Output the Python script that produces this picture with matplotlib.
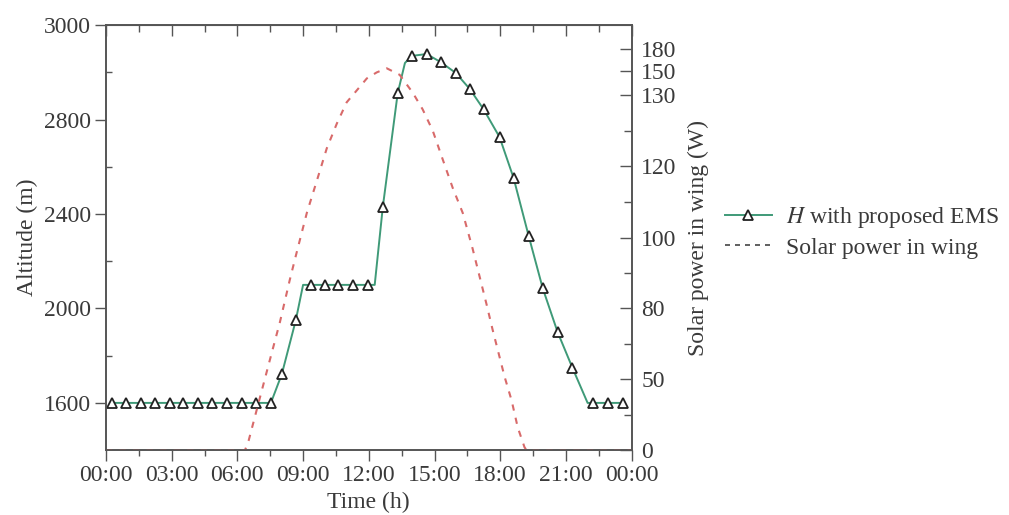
import numpy as np
import matplotlib
matplotlib.use("Agg")
import matplotlib.pyplot as plt
from matplotlib.lines import Line2D

plt.rcParams['font.family'] = ['Liberation Serif', 'DejaVu Serif']
plt.rcParams['mathtext.fontset'] = 'stix'

# ---------------- data ----------------
# Altitude H (m) over the day (hours); corner points of the line carry no marker
H_time = [0.27, 0.91, 1.60, 2.24, 2.92, 3.51, 4.20, 4.84, 5.52, 6.20, 6.84, 7.53,
          8.03, 8.67, 9.00, 9.35, 9.99, 10.58, 11.27, 11.95, 12.27, 12.64, 13.32,
          13.65, 13.96, 14.64, 15.28, 15.97, 16.61, 17.24, 17.97, 18.61, 19.30,
          19.94, 20.62, 21.30, 21.99, 22.22, 22.90, 23.59]
H_alt = [1600, 1600, 1600, 1600, 1600, 1600, 1600, 1600, 1600, 1600, 1600, 1600,
         1722, 1951, 2100, 2100, 2100, 2100, 2100, 2100, 2100, 2430, 2856,
         2920, 2935, 2939, 2922, 2899, 2865, 2822, 2726, 2553, 2307,
         2086, 1900, 1748, 1600, 1600, 1600, 1600]
H_marked = [True] * 14 + [False] + [True] * 5 + [False] + [True] * 2 + [False] + \
           [True] * 12 + [False] + [True] * 3

# Solar power in wing (W)
S_time = [0, 6.35, 6.52, 7.03, 7.48, 7.94, 8.39, 8.67, 9.17, 9.63, 10.08, 10.54,
          10.99, 11.45, 11.91, 12.36, 12.82, 13.41, 14.01, 14.46, 14.92, 15.37,
          15.83, 16.29, 16.74, 17.06, 17.38, 17.65, 18.20, 18.52, 18.80, 19.11,
          19.2, 24]
S_power = [0, 0, 7, 37, 58, 74, 88, 95, 107, 116, 122.5, 126,
           129, 134, 144, 149, 154, 147, 132, 128, 125, 121,
           114, 107, 97, 89, 81, 71, 51, 35, 16, 2,
           0, 0]

x_ticks = [0, 3, 6, 9, 12, 15, 18, 21, 24]
x_labels = ["00:00", "03:00", "06:00", "09:00", "12:00", "15:00", "18:00", "21:00", "00:00"]
alt_ticks = [1600, 2000, 2400, 2800, 3000]
alt_minor = [1800, 2200, 2600, 2900]
pw_ticks = [0, 50, 80, 100, 120, 130, 150, 180]
pw_minor = [25, 65, 90, 110, 125]

# axis scale breakpoints (as printed on the original axes)
alt_break_v = [1400, 2800, 3000]
alt_break_p = [0, 7, 9]
pw_break_v = [0, 50, 80, 100, 120, 130, 150, 180, 213]
pw_break_p = [0, 71, 142, 212, 284, 355, 379, 401, 425]

def alt_fwd(v):
    return np.interp(v, alt_break_v, alt_break_p)

def alt_inv(p):
    return np.interp(p, alt_break_p, alt_break_v)

def pw_fwd(v):
    return np.interp(v, pw_break_v, pw_break_p)

def pw_inv(p):
    return np.interp(p, pw_break_p, pw_break_v)

# ---------------- figure ----------------
TXT = '#3a3a3a'
SP = '#555555'
FS = 17

fig = plt.figure(figsize=(10.09, 5.15), dpi=100)
ax = fig.add_axes([0.105, 0.126, 0.521, 0.825])

ax.set_yscale('function', functions=(alt_fwd, alt_inv))
ax.set_ylim(1400, 3000)
ax.set_xlim(0, 24)

green = '#3f9a78'
red = '#d86a6a'

t = np.array(H_time)
h = np.array(H_alt)
m = np.array(H_marked)
ax.plot(t, h, color=green, lw=1.4, zorder=3)
ax.plot(t[m], h[m], ls='none', marker='^', ms=7, mfc='white', mec='#222222',
        mew=1.3, zorder=4)

ax2 = ax.twinx()
ax2.set_yscale('function', functions=(pw_fwd, pw_inv))
ax2.set_ylim(0, 213)
ax2.plot(S_time, S_power, color=red, lw=1.5, ls=(0, (3, 3.5)), zorder=2)

# ticks
ax.set_xticks(x_ticks)
ax.set_xticklabels(x_labels)
ax.set_xticks(np.arange(1.5, 24, 3), minor=True)
ax.set_yticks(alt_ticks)
ax.set_yticklabels([str(v) for v in alt_ticks])
ax.set_yticks(alt_minor, minor=True)
ax.tick_params(axis='x', which='major', direction='out', length=8, width=1, color=SP,
               labelsize=FS, labelcolor=TXT, pad=3)
ax.tick_params(axis='x', which='minor', direction='out', length=4, width=1, color=SP)
ax.tick_params(axis='y', which='major', direction='out', length=8, width=1, color=SP,
               labelsize=FS, labelcolor=TXT, pad=3)
ax.tick_params(axis='y', which='minor', direction='in', length=4, width=1, color=SP)

ax2.set_yticks(pw_ticks)
ax2.set_yticklabels([str(v) for v in pw_ticks])
ax2.set_yticks(pw_minor, minor=True)
ax2.tick_params(axis='y', which='major', direction='in', length=9, width=1, color=SP,
                labelsize=FS, labelcolor=TXT, pad=7)
ax2.tick_params(axis='y', which='minor', direction='in', length=6, width=1, color=SP)

top = ax.secondary_xaxis('top')
top.set_xticks(x_ticks)
top.set_xticklabels([])
top.set_xticks(np.arange(1.5, 24, 3), minor=True)
top.tick_params(which='major', direction='in', length=8, width=1, color=SP)
top.tick_params(which='minor', direction='in', length=5, width=1, color=SP)
top.spines['top'].set_color(SP)

for a in (ax, ax2):
    for s in a.spines.values():
        s.set_color(SP)
        s.set_linewidth(1.2)

ax.set_xlabel('Time (h)', fontsize=FS, color=TXT, labelpad=4)
ax.set_ylabel('Altitude (m)', fontsize=FS, color=TXT, labelpad=4)
ax2.set_ylabel('Solar power in wing (W)', fontsize=FS, color=TXT, labelpad=8)

handles = [
    Line2D([], [], color=green, lw=1.4, marker='^', ms=7, mfc='white',
           mec='#222222', mew=1.3),
    Line2D([], [], color='#444444', lw=1.2, ls=(0, (3, 3))),
]
fig.legend(handles, ['$H$ with proposed EMS', 'Solar power in wing'],
           loc='center left', bbox_to_anchor=(0.697, 0.55), frameon=False,
           fontsize=FS, handlelength=2.0, handletextpad=0.6, labelspacing=0.3,
           labelcolor=TXT)

fig.savefig('out.png', dpi=100)
